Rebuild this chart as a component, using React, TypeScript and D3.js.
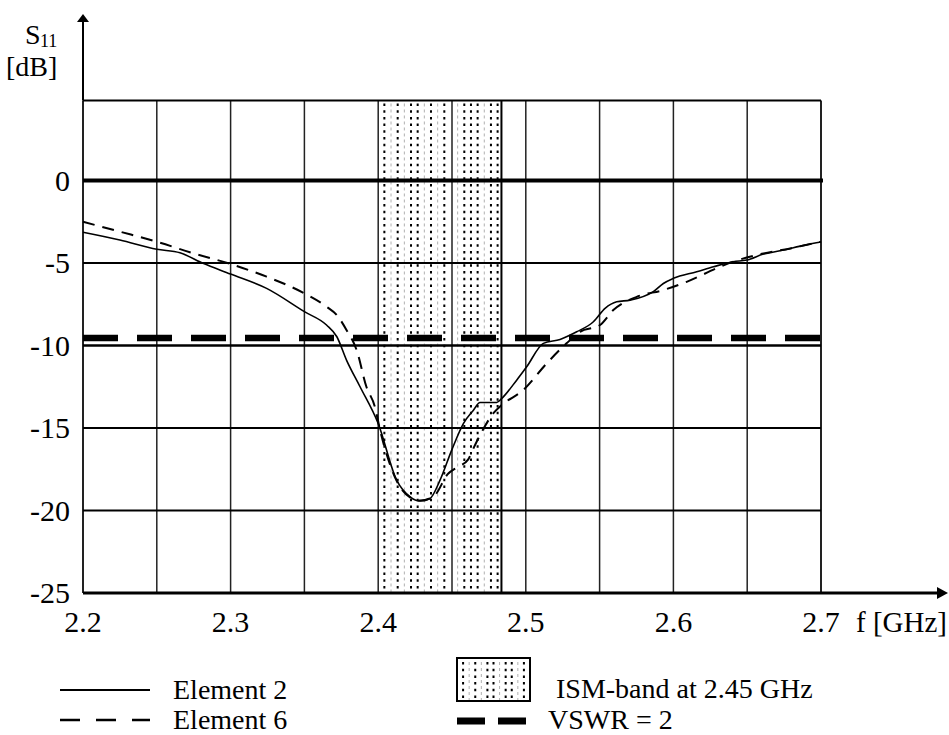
import React from "react";
import * as d3 from "d3";

// ---------- data ----------
const freqE2 = [2.2, 2.225, 2.25, 2.2657, 2.2813, 2.3, 2.3244, 2.35, 2.365, 2.372, 2.3786, 2.3877, 2.4, 2.4125, 2.4216, 2.4283, 2.4351, 2.4419, 2.4498, 2.4577, 2.4645, 2.469, 2.4803, 2.4838, 2.4938, 2.5006, 2.5119, 2.5232, 2.5345, 2.5458, 2.5537, 2.5616, 2.5706, 2.5864, 2.5932, 2.6, 2.6158, 2.6271, 2.6406, 2.6497, 2.661, 2.6722, 2.69, 2.7];
const s11E2 = [-3.14, -3.61, -4.17, -4.38, -5.02, -5.67, -6.54, -7.95, -8.76, -9.47, -10.9, -12.5, -14.73, -18.16, -19.17, -19.42, -19.27, -18.16, -16.34, -14.73, -13.92, -13.45, -13.45, -13.2, -12.1, -11.29, -9.87, -9.63, -9.17, -8.56, -7.75, -7.35, -7.25, -6.74, -6.24, -5.93, -5.53, -5.23, -4.92, -4.82, -4.46, -4.26, -3.9, -3.73];

const freqE6 = [2.2, 2.225, 2.25, 2.275, 2.3, 2.3244, 2.35, 2.365, 2.372, 2.3786, 2.3854, 2.392, 2.3977, 2.4012, 2.4125, 2.4216, 2.4283, 2.4373, 2.4475, 2.4532, 2.461, 2.4645, 2.469, 2.4779, 2.4838, 2.4983, 2.5141, 2.5276, 2.5367, 2.5503, 2.5593, 2.5751, 2.5932, 2.609, 2.6316, 2.6406, 2.661, 2.68, 2.7];
const s11E6 = [-2.5, -3.1, -3.71, -4.42, -5.06, -5.83, -6.84, -7.65, -8.16, -9.07, -10.28, -12.5, -13.7, -15.1, -18.2, -19.2, -19.4, -19.17, -17.76, -17.4, -16.9, -16.24, -15.43, -14.12, -13.6, -12.7, -11.09, -9.87, -9.17, -8.76, -7.85, -7.05, -6.64, -6.14, -5.23, -4.92, -4.42, -4.1, -3.7];

const xTickValues = [2.2, 2.3, 2.4, 2.5, 2.6, 2.7];
const xTickLabels = ["2.2", "2.3", "2.4", "2.5", "2.6", "2.7"];
const yTickValues = [0, -5, -10, -15, -20, -25];
const yTickLabels = ["0", "-5", "-10", "-15", "-20", "-25"];
const gridFreqs = [2.2, 2.25, 2.3, 2.35, 2.4, 2.45, 2.5, 2.55, 2.6, 2.65, 2.7];
const gridDb = [0, -5, -10, -15, -20];
const ismBand = [2.4, 2.4835];
const vswrDb = -9.54;
const topDb = 4.85;

const FONT = "'Liberation Serif', 'Times New Roman', serif";
const FS = 28;
const TFS = 30;
// hatch column pattern (B = black dotted, G = grey dashed, N = none)
const HATCH = "BGBGBBGBGBNGBBBGBB";

export default function App() {
  const x = d3.scaleLinear().domain([2.2, 2.7]).range([83, 821]);
  const y = d3.scaleLinear().domain([-25, 0]).range([593, 180.5]);
  const yTop = y(topDb);
  const yBot = y(-25);
  const xL = x(2.2);
  const xR = x(2.7);

  const line = d3
    .line<[number, number]>()
    .x((d) => x(d[0]))
    .y((d) => y(d[1]))
    .curve(d3.curveMonotoneX);
  const e2 = line(freqE2.map((f, i) => [f, s11E2[i]]) as [number, number][]) || "";
  const e6 = line(freqE6.map((f, i) => [f, s11E6[i]]) as [number, number][]) || "";

  const b0 = x(ismBand[0]);
  const b1 = x(ismBand[1]);
  const step = (b1 - b0) / (HATCH.length + 0.5);
  const cols = HATCH.split("").map((t, i) => ({ cx: b0 + step * (i + 1) - 0.5, t }));

  const lb = { x0: 457, y0: 658, w: 73, h: 43 };
  const lstep = lb.w / 12;
  const lcols = "BGBGBBGBBGB".split("").map((t, i) => ({ cx: lb.x0 + lstep * (i + 1), t }));

  const hatchLine = (cx: number, t: string, y1: number, y2: number, key: number) =>
    t === "B" ? (
      <line key={key} x1={cx} x2={cx} y1={y1} y2={y2} stroke="#000" strokeWidth={2} strokeDasharray="2.5,4.2" />
    ) : t === "G" ? (
      <line key={key} x1={cx} x2={cx} y1={y1} y2={y2} stroke="#b0b0b0" strokeWidth={1} strokeDasharray="3,3" />
    ) : null;

  return (
    <svg
      width={949}
      height={735}
      style={{ position: "absolute", left: 0, top: 0, background: "#fff" }}
      fontFamily={FONT}
    >
      <rect x={0} y={0} width={949} height={735} fill="#fff" />

      {/* ISM band hatch */}
      <g>
        {cols.map((c, i) => hatchLine(c.cx, c.t, yTop + 3, yBot, i))}
        <line x1={b1} x2={b1} y1={yTop} y2={yBot} stroke="#000" strokeWidth={2} />
      </g>

      {/* vertical grid */}
      {gridFreqs.map((f) => (
        <line key={f} x1={x(f)} x2={x(f)} y1={yTop} y2={yBot} stroke="#222" strokeWidth={f === 2.2 || f === 2.7 ? 2 : 1.5} />
      ))}

      {/* horizontal grid */}
      <line x1={xL} x2={xR} y1={yTop} y2={yTop} stroke="#000" strokeWidth={2} />
      {gridDb.map((v) => (
        <line key={v} x1={xL} x2={xR + (v === 0 ? 2 : 0)} y1={y(v)} y2={y(v)} stroke="#000" strokeWidth={v === 0 ? 4 : v === -10 ? 2.5 : 2} />
      ))}

      {/* VSWR = 2 line */}
      <line x1={xL} x2={xR} y1={y(vswrDb)} y2={y(vswrDb)} stroke="#000" strokeWidth={6.5} strokeDasharray="35,19" />

      {/* curves */}
      <path d={e2} fill="none" stroke="#000" strokeWidth={1.6} />
      <path d={e6} fill="none" stroke="#000" strokeWidth={2} strokeDasharray="12,8" />

      {/* axes */}
      <line x1={xL} x2={xL} y1={yTop} y2={20} stroke="#000" strokeWidth={2} />
      <path d={`M${xL - 6},${22} L${xL},${14} L${xL + 6},${22} Z`} fill="#000" />
      <line x1={xL} x2={938} y1={yBot} y2={yBot} stroke="#000" strokeWidth={3} />
      <path d={`M${937},${587} L${948},${593} L${937},${599} Z`} fill="#000" />

      {/* tick labels */}
      {yTickValues.map((v, i) => (
        <text key={v} x={70} y={y(v) + 10} textAnchor="end" fontSize={TFS} fill="#000">
          {yTickLabels[i]}
        </text>
      ))}
      {xTickValues.map((v, i) => (
        <text key={v} x={x(v)} y={632} textAnchor="middle" fontSize={TFS} fill="#000">
          {xTickLabels[i]}
        </text>
      ))}
      <text x={856} y={632} fontSize={29} fill="#000">f [GHz]</text>

      {/* y-axis title */}
      <text x={25} y={44} fontSize={FS} fill="#000">S</text>
      <text x={40} y={47} fontSize={18} fill="#000">11</text>
      <text x={6} y={76} fontSize={FS} fill="#000">[dB]</text>

      {/* legend */}
      <line x1={60} x2={150} y1={690} y2={690} stroke="#000" strokeWidth={1.8} />
      <text x={173} y={699} fontSize={FS} fill="#000">Element 2</text>
      <line x1={60} x2={150} y1={720} y2={720} stroke="#000" strokeWidth={2.5} strokeDasharray="20,16" />
      <text x={173} y={729} fontSize={FS} fill="#000">Element 6</text>

      <g>
        {lcols.map((c, i) => hatchLine(c.cx, c.t, lb.y0 + 4, lb.y0 + lb.h, i))}
        <rect x={lb.x0} y={lb.y0} width={lb.w} height={lb.h} fill="none" stroke="#000" strokeWidth={2} />
      </g>
      <text x={556} y={698} fontSize={FS} fill="#000">ISM-band at 2.45 GHz</text>
      <line x1={457} x2={526} y1={721} y2={721} stroke="#000" strokeWidth={7} strokeDasharray="28,13" />
      <text x={548} y={729} fontSize={FS} fill="#000">VSWR = 2</text>
    </svg>
  );
}
